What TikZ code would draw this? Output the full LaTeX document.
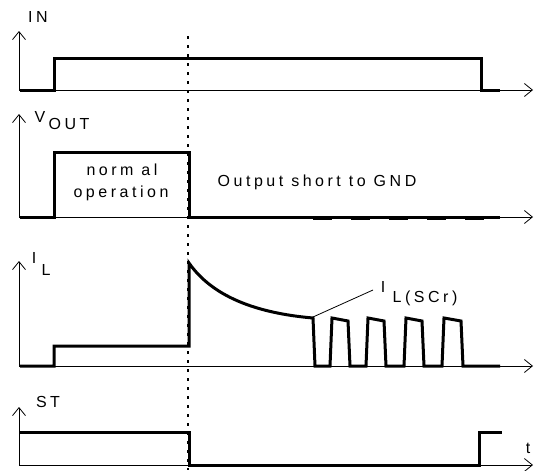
\documentclass[tikz,border=0pt]{standalone}
\usepackage{fontspec}
\setmainfont{Liberation Sans}[LetterSpace=22]
\usetikzlibrary{arrows.meta}
\begin{document}
\begin{tikzpicture}[x=1pt,y=-1pt,
  axis/.style={line width=0.8pt,-{Straight Barb[length=8pt,width=13pt,line width=0.8pt]}},
  sig/.style={line width=3pt,line join=miter,line cap=butt},
  lbl/.style={inner sep=0pt,font=\fontsize{16}{18}\selectfont},
  dotline/.style={line width=2pt,dash pattern=on 3pt off 6pt},
]
\useasboundingbox (0,0) rectangle (538,471);
% axes
\draw[axis] (19,90) -- (19,31);
\draw[axis] (19,90) -- (533,90);
\draw[axis] (19,217) -- (19,114);
\draw[axis] (19,217) -- (533,217);
\draw[axis] (19,366) -- (19,261);
\draw[axis] (19,366) -- (533,366);
\draw[axis] (19,465) -- (19,407);
\draw[axis] (19,465) -- (533,465);
% dotted marker
\draw[dotline] (188,36) -- (188,470);
% IN
\draw[sig] (20,90) -- (54,90) -- (54,58) -- (481,58) -- (481,90) -- (500,90);
% VOUT
\draw[sig] (20,217) -- (54,217) -- (54,152) -- (189,152) -- (189,217) -- (500,217);
\draw[line width=3pt,dash pattern=on 19pt off 19pt] (313,218.5) -- (500,218.5);
% IL
\draw[sig] (20,366) -- (54,366) -- (54,346) -- (189,346) -- (189,263)
  .. controls (212,296) and (255,313) .. (313,318)
  -- (315,366) -- (330,366) -- (332,318) -- (348,321) -- (350,366)
  -- (366,366) -- (368,318) -- (384,321) -- (386,366)
  -- (404,366) -- (406,318) -- (422,321) -- (424,366)
  -- (442,366) -- (444,318) -- (461,321) -- (463,366) -- (500,366);
% ST
\draw[sig] (19,432) -- (189,432) -- (189,465) -- (479,465) -- (479,432) -- (502,432);
% labels
\node[lbl] (in) at (38,17) {IN};
\node[lbl] (v) at (40,117) {V};
\node[lbl] (vout) at (69,124) {OUT};
\node[lbl] (normal) at (122,170) {norm al};
\node[lbl] (oper) at (121,193) {operation};
\node[lbl] (short) at (317,182) {Output short to GND};
\node[lbl] (i) at (34,258) {I};
\node[lbl] (il) at (46,270) {L};
\node[lbl] (isc) at (383,287) {I};
\node[lbl] (iscsub) at (425,298) {L(SCr)};
\node[lbl] (st) at (48,402) {ST};
\node[lbl] (t) at (528,448) {t};
\coordinate (lead) at (313,317);
\draw[line width=0.8pt] (373,290) -- (lead);
\end{tikzpicture}
\end{document}
